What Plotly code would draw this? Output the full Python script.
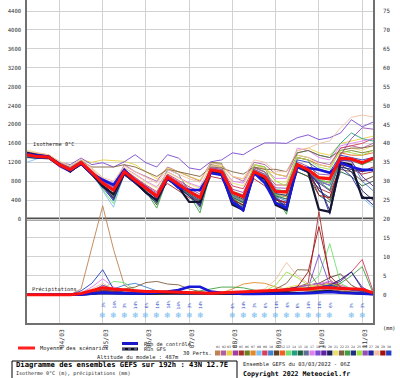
import plotly.graph_objects as go
import pandas as pd

MONO = "DejaVu Sans Mono"

# ---------------- data ----------------
times = pd.date_range("2022-03-03 06:00", periods=33, freq="6h")
day_ticks = pd.date_range("2022-03-04", periods=8, freq="D")
day_labels = ["04/03", "05/03", "06/03", "07/03", "08/03", "09/03", "10/03", "11/03"]

left_ticks = [0, 400, 800, 1200, 1600, 2000, 2400, 2800, 3200, 3600, 4000, 4400]
right_ticks = [0, 5, 10, 15, 20, 25, 30, 35, 40, 45, 50, 55, 60, 65, 70, 75]

# isotherm 0°C (m)
iso_mean = [1360,1320,1310,1150,1040,1190,980,760,610,1000,820,640,480,890,740,580,450,1040,1000,560,470,1000,890,580,570,1150,1040,870,850,1290,1270,1190,1290]
iso_control = [1380,1340,1320,1140,1020,1180,960,830,720,1040,800,660,470,870,660,615,615,975,930,360,190,975,760,340,233,1100,1080,1040,975,1190,1100,1040,1040]
iso_gfs = [1400,1350,1320,1160,1000,1180,960,700,520,980,790,560,400,860,680,360,360,1000,960,300,190,980,850,300,190,1150,1000,200,150,1200,1150,445,445]

iso_p01 = [1330,1300,1290,1130,1010,1150,950,700,520,960,780,560,380,850,700,520,380,980,950,480,380,960,850,500,470,1100,1000,800,760,1250,1230,1150,1250]
iso_p02 = [1380,1350,1330,1180,1080,1230,1020,820,700,1150,1000,900,800,1100,1000,900,800,1200,1150,900,800,1200,1150,950,900,1350,1300,1200,1150,1500,1550,1500,1600]
iso_p03 = [1300,1330,1350,1200,1120,1250,1200,1250,1240,1220,1150,1000,850,1080,1000,900,820,1150,1120,900,850,1100,1050,950,900,1450,1500,1400,1350,1600,1650,1700,1750]
iso_p04 = [1350,1300,1280,1100,990,1160,930,680,470,930,760,580,400,860,690,480,300,1000,960,420,280,980,860,430,350,1120,1010,780,720,1260,1240,1160,1270]
iso_p05 = [1400,1360,1340,1180,1060,1210,1000,780,640,1030,850,680,520,750,600,450,350,900,850,450,350,850,700,400,350,1000,900,650,550,1100,1050,950,1000]
iso_p06 = [1320,1290,1280,1120,1000,1140,920,680,500,960,760,540,360,840,680,500,360,1200,1180,500,400,1150,1100,520,500,1300,1250,820,780,1400,1450,1400,1450]
iso_p07 = [1340,1310,1300,1140,1030,1180,960,740,450,990,800,620,350,880,720,560,440,1030,990,540,460,990,880,560,550,1150,1030,860,830,1280,1260,1180,1280]
iso_p08 = [1200,1280,1300,1160,1060,1200,1000,600,250,980,840,660,300,880,750,560,200,1020,980,420,250,1000,880,520,150,1140,1040,800,600,1200,1100,450,250]
iso_p09 = [1420,1380,1350,1190,1080,1220,1020,800,680,1050,880,720,580,950,820,680,580,1080,1050,700,640,1080,990,720,720,1300,1250,1150,1100,1500,1550,1600,1700]
iso_p10 = [1360,1330,1320,1160,1050,1200,990,720,380,990,800,600,360,870,720,540,380,1010,990,500,360,990,860,480,380,1120,1020,820,700,1260,1240,800,600]
iso_p11 = [1300,1280,1270,1120,1020,1160,950,720,540,970,790,600,300,860,710,540,250,1010,970,350,250,970,860,350,300,1120,1010,600,400,1050,1000,800,900]
iso_p12 = [1370,1340,1330,1170,1060,1210,1000,790,630,1010,840,670,510,910,770,610,490,1060,1030,590,510,1030,920,610,600,1180,1070,900,880,1400,1350,1350,1400]
iso_p13 = [1310,1300,1300,1150,1050,1190,980,620,330,990,800,600,320,870,720,540,300,1020,980,480,300,1010,880,520,420,1160,1050,840,760,1290,1270,1180,1280]
iso_p14 = [1350,1320,1310,1150,1040,1200,990,770,620,1010,830,650,500,900,760,600,480,1050,1020,580,500,1050,940,620,590,1400,1450,1350,1300,1600,1820,1700,1650]
iso_p15 = [1330,1300,1290,1130,1020,1170,960,720,520,970,780,580,380,850,700,520,360,990,960,470,340,960,850,490,420,1000,900,500,350,1000,900,700,800]
iso_p16 = [1380,1340,1320,1160,1050,1200,990,770,610,1000,830,650,490,1050,950,590,470,1150,1100,570,480,1100,1000,590,580,1160,1050,880,860,1300,1280,1200,1300]
iso_p17 = [1400,1370,1350,1200,1100,1250,1050,850,760,1080,950,800,680,1000,880,760,680,1120,1100,800,760,1150,1060,860,860,1500,1450,1300,1250,1550,1600,1650,1700]
iso_p18 = [1380,1350,1330,1200,1150,1290,1150,1190,1100,1210,1360,1190,1100,1360,1290,1080,1040,1210,1250,1400,1360,1500,1610,1610,1600,1720,1780,1680,1720,1820,2100,1950,2050]
iso_p19 = [1340,1310,1300,1140,1030,1170,960,700,450,960,780,580,400,850,700,520,320,980,950,440,280,960,850,460,300,1100,990,760,600,1240,1220,900,700]
iso_p20 = [1320,1300,1290,1130,1010,1150,940,690,430,940,760,560,380,830,680,500,300,970,940,420,220,950,830,420,240,1090,980,720,180,1150,1000,600,400]
iso_p21 = [1460,1400,1360,1220,1120,1260,1050,850,740,1080,930,780,650,990,870,740,650,1130,1110,760,700,1150,1060,800,780,1350,1300,1150,1100,1450,1500,1450,1550]
iso_p22 = [1390,1360,1330,1180,1090,1230,1100,1100,1100,1150,1100,1000,900,1050,1000,950,900,1100,1080,1000,950,1100,1050,1050,1000,1400,1450,1350,1300,1450,1500,1500,1550]
iso_p23 = [1300,1290,1290,1130,1020,1160,950,720,480,970,790,590,230,860,700,510,130,1000,960,460,260,990,870,490,100,1130,1030,790,620,1270,1250,1150,1250]
iso_p24 = [1350,1320,1300,1150,1040,1190,980,750,580,990,810,620,440,870,720,550,400,1020,990,520,420,990,870,540,500,1130,1020,600,450,1100,1050,1000,1050]
iso_p25 = [1330,1310,1300,1140,1030,1180,970,740,590,1000,820,630,460,880,730,560,420,1030,990,530,450,1150,1100,800,700,1300,1250,1100,1050,1450,1400,1350,1450]
iso_p26 = [1370,1350,1330,1170,1070,1220,1020,800,660,1040,870,700,550,930,790,640,530,1080,1050,630,560,1050,950,660,650,1210,1110,950,930,1350,1700,1930,1900]
iso_p27 = [1310,1280,1280,1120,1000,1140,920,660,400,930,750,540,340,830,670,480,280,960,930,430,150,950,830,440,260,1080,980,740,100,1100,900,500,300]
iso_p28 = [1420,1400,1360,1220,1120,1270,1080,880,800,1120,1000,880,760,1050,950,850,780,1180,1150,900,850,1250,1200,1000,1000,1450,1500,1600,1650,1930,2150,2200,2160]
iso_p29 = [1340,1310,1300,1150,1040,1190,980,760,620,1000,820,640,480,890,740,570,440,1040,1000,400,300,1000,880,400,350,1150,1030,500,450,1150,1100,1000,1100]
iso_p30 = [1360,1320,1310,1160,1050,1200,990,770,630,1010,830,650,490,900,750,590,460,1050,1010,570,490,1010,900,590,560,1250,1200,1050,1000,1350,1300,1250,1300]

# precipitation (mm)
pr_mean = [0,0,0,0,0,0.3,1.0,1.8,1.5,1.2,1.0,0.8,0.8,0.7,0.6,0.5,0.5,0.4,0.5,0.6,0.7,0.8,0.9,1.1,1.3,1.4,1.5,1.8,1.8,1.6,1.5,1.4,0.5]
pr_control = [0,0,0,0,0,0,0.3,0.5,0.4,0.3,0.3,0.3,0.5,0.8,1.2,2.1,2.1,0.8,0.5,0.3,0.2,0.2,0.2,0.2,0.3,0.3,0.4,0.5,0.7,0.5,0.3,0.2,0.1]
pr_gfs = [0,0,0,0,0,0,0.2,0.4,0.3,0.2,0.2,0.2,0.2,0.3,0.4,0.5,0.4,0.3,0.2,0.2,0.2,0.3,0.4,0.5,0.6,0.5,0.5,0.8,1.0,0.6,0.4,0.3,0.1]

pr_p01 = [0,0,0,0,0,1.5,12.5,23.5,12,2.5,0.8,0.5,0.3,0.2,0.2,0.3,0.3,0.2,0.2,0.3,0.4,0.5,0.5,0.8,1.0,1.2,1.0,0.8,0.6,0.5,0.4,0.3,0.2]
pr_p02 = [0,0,0,0,0,0.2,0.6,1.0,0.8,0.6,0.5,0.4,0.3,0.3,0.2,0.2,0.2,0.2,0.3,0.4,0.5,0.6,0.5,0.8,1.5,1.2,0.9,1.2,1.5,1.0,0.8,0.6,0.2]
pr_p03 = [0,0,0,0,0,0.1,0.5,0.8,0.6,0.4,0.3,0.3,0.2,0.2,0.1,0.1,0.1,0.1,0.2,0.3,0.4,0.5,0.6,0.8,1.8,2.5,1.5,1.0,0.8,0.6,1.0,0.8,0.2]
pr_p04 = [0,0,0,0,0,0.3,1.0,2.0,1.2,0.8,0.5,0.3,0.3,0.2,0.2,0.2,0.2,0.3,0.3,0.4,0.5,0.6,0.8,1.0,1.5,1.8,1.5,2.5,3.5,2.0,1.0,0.8,0.3]
pr_p05 = [0,0,0,0,0,0.2,0.8,1.5,1.0,0.6,0.5,0.4,0.3,0.3,0.2,0.2,0.2,0.2,0.3,0.4,0.5,0.6,0.8,1.0,1.5,2.0,3.0,22.0,4.0,1.5,1.0,0.8,0.3]
pr_p06 = [0,0,0,0,0,0.2,0.6,1.2,0.8,0.5,0.4,0.3,0.2,0.2,0.2,0.2,0.1,0.2,0.2,0.3,0.4,0.5,0.6,0.8,1.2,1.5,1.2,1.0,0.8,0.6,0.5,0.4,0.2]
pr_p07 = [0,0,0,0,0,0.2,0.8,2.5,1.5,0.8,0.5,0.4,0.3,0.3,0.2,0.2,0.2,0.3,0.5,1.5,2.8,3.2,3.0,2.0,1.5,1.2,1.0,1.5,2.0,1.5,1.0,0.6,0.2]
pr_p08 = [0,0,0,0,0,0.1,0.5,1.0,0.8,0.5,0.4,0.3,0.2,0.2,0.2,0.2,0.2,0.2,0.3,0.4,0.5,0.6,0.8,1.0,1.2,1.5,1.8,2.0,2.5,1.8,1.2,0.8,0.3]
pr_p09 = [0,0,0,0,0,0.2,0.6,1.2,0.8,0.6,0.5,0.4,0.3,0.3,0.2,0.2,0.2,0.2,0.3,0.4,0.5,0.6,0.8,1.0,1.5,1.8,1.5,2.0,2.5,4.0,6.0,9.3,1.0]
pr_p10 = [0,0,0,0,0,0.2,0.8,1.5,1.5,2.5,3.0,2.0,1.0,0.6,0.4,0.3,0.2,0.2,0.3,0.4,0.5,0.5,0.6,0.8,1.0,1.2,1.5,1.8,2.0,1.5,1.0,0.8,0.3]
pr_p11 = [0,0,0,0,0,0.2,0.5,1.0,0.8,0.6,0.5,0.4,0.3,0.3,0.2,0.2,0.2,0.2,0.3,0.4,0.5,0.6,0.8,1.0,1.5,2.0,2.5,3.0,4.5,5.5,2.5,1.0,0.3]
pr_p12 = [0,0,0,0,0,0.3,0.8,1.5,1.0,0.8,0.6,0.5,0.4,0.3,0.3,0.3,0.2,0.2,0.3,0.4,0.6,0.8,1.0,1.2,1.5,1.8,2.0,2.5,3.0,2.5,1.5,1.0,0.3]
pr_p13 = [0,0,0,0,0,0.2,0.8,1.5,3.5,3.2,1.2,0.6,0.4,0.3,0.3,0.2,0.2,0.2,0.3,0.4,0.6,0.8,1.0,1.2,1.5,2.0,2.5,5.0,13.5,3.0,1.5,1.0,0.3]
pr_p14 = [0,0,0,0,0,0.1,0.4,0.8,0.6,0.4,0.3,0.3,0.2,0.2,0.2,0.2,0.1,0.2,0.2,0.3,0.4,0.5,0.6,0.8,1.0,1.2,1.5,2.0,2.5,2.0,1.5,1.0,0.3]
pr_p15 = [0,0,0,0,0,0.2,0.6,1.0,0.8,0.6,0.4,0.3,0.3,0.2,0.2,0.2,0.2,0.2,0.3,0.4,0.5,0.6,0.8,1.0,1.2,1.5,1.8,2.2,2.8,2.0,1.2,0.8,0.3]
pr_p16 = [0,0,0,0,0,0.2,0.5,1.0,0.8,0.5,0.4,0.3,0.2,0.2,0.2,0.2,0.2,0.2,0.2,0.3,0.4,0.5,0.6,0.8,1.0,1.3,1.5,1.8,2.0,1.5,1.0,0.6,0.2]
pr_p17 = [0,0,0,0,0,0.5,2.0,4.2,2.0,1.0,0.6,0.5,0.4,0.3,0.3,0.2,0.2,0.2,0.3,0.4,0.5,0.6,0.8,1.0,1.5,2.0,2.5,3.0,3.5,2.5,1.5,1.0,0.3]
pr_p18 = [0,0,0,0,0,0.3,1.0,2.5,1.5,0.8,0.6,0.5,0.4,0.3,0.3,0.3,0.2,0.2,0.3,0.4,0.5,0.6,0.8,1.0,1.5,1.5,1.8,10.6,2.5,1.5,1.0,0.8,0.3]
pr_p19 = [0,0,0,0,0,0.2,0.6,1.2,0.8,0.6,0.4,0.3,0.3,0.2,0.2,0.2,0.2,0.2,0.3,0.3,0.4,0.5,0.6,0.8,1.0,1.2,1.5,1.8,2.5,3.5,6.0,2.0,0.3]
pr_p20 = [0,0,0,0,0,0.1,0.4,0.8,0.6,0.4,0.3,0.2,0.2,0.2,0.2,0.1,0.1,0.1,0.2,0.3,0.4,0.5,0.6,0.8,1.0,1.2,1.4,1.6,2.0,1.5,1.0,0.6,0.2]
pr_p21 = [0,0,0,0,0,0.2,0.5,1.0,0.8,0.6,0.4,0.3,0.2,0.2,0.2,0.2,0.2,0.2,0.2,0.3,0.4,0.5,0.6,0.8,1.2,1.6,2.0,2.4,2.8,2.0,1.2,0.8,0.3]
pr_p22 = [0,0,0,0,0,0.2,0.5,1.0,1.0,1.5,2.0,3.2,3.5,2.8,2.6,1.5,0.8,0.5,0.4,0.5,0.6,0.8,1.0,1.5,3.0,6.6,6.5,2.0,1.5,1.0,0.8,0.6,0.2]
pr_p23 = [0,0,0,0,0,0.1,0.5,1.0,0.8,0.6,0.5,0.4,0.3,0.3,0.3,0.5,1.0,1.5,2.0,2.0,1.8,1.2,0.8,0.8,1.0,1.2,1.5,1.8,2.0,3.0,5.0,7.4,0.4]
pr_p24 = [0,0,0,0,0,0.2,0.5,1.0,0.8,0.5,0.4,0.3,0.3,0.2,0.2,0.2,0.2,0.2,0.3,0.4,0.5,0.6,0.8,1.0,1.2,1.5,1.8,2.0,2.5,4.0,6.0,1.5,0.3]
pr_p25 = [0,0,0,0,0,0.2,0.6,1.2,0.8,0.6,0.4,0.3,0.3,0.2,0.2,0.2,0.2,0.2,0.3,0.4,0.6,0.8,1.0,2.5,6.0,4.5,2.5,2.0,1.8,1.5,1.0,0.8,0.3]
pr_p26 = [0,0,0,0,0,0.2,0.6,1.0,0.8,0.6,0.5,0.4,0.3,0.3,0.2,0.2,0.2,0.2,0.3,0.4,0.5,0.6,0.8,1.0,1.5,2.0,2.5,3.0,2.0,1.5,1.0,0.6,0.2]
pr_p27 = [0,0,0,0,0,0.1,0.4,0.8,0.6,0.4,0.3,0.3,0.2,0.2,0.2,0.2,0.2,0.2,0.2,0.3,0.4,0.5,0.6,0.8,1.0,1.2,1.5,1.8,2.0,1.5,1.0,0.8,0.3]
pr_p28 = [0,0,0,0,0,0.5,1.5,3.0,1.5,0.8,0.6,0.5,0.4,0.3,0.3,0.3,0.3,0.3,0.4,0.6,0.8,1.0,1.5,4.0,8.5,5.0,3.0,2.0,1.5,1.2,1.0,0.8,0.3]
pr_p29 = [0,0,0,0,0,0.2,0.6,1.2,0.8,0.6,0.5,0.4,0.3,0.3,0.2,0.2,0.2,0.2,0.3,0.4,0.5,0.6,0.8,1.0,1.5,2.0,6.0,18.0,5.0,2.0,1.5,1.0,0.3]
pr_p30 = [0,0,0,0,0,1.0,3.0,6.6,1.5,0.6,0.5,0.4,0.3,0.3,0.2,0.2,0.2,0.2,0.3,0.4,0.5,0.6,0.8,1.0,1.2,1.5,1.8,2.0,2.5,1.8,1.2,0.8,0.3]

member_colors = ["#c08050", "#b060a0", "#e8d040", "#a040a0", "#a83030", "#708020",
                 "#e08a30", "#80c0f0", "#d04060", "#4080d0", "#604020", "#f06020",
                 "#70e070", "#20a080", "#206040", "#607090", "#e080f0", "#7a4ad0",
                 "#6020a0", "#202060", "#e8e070", "#806040", "#40a040", "#203080",
                 "#a0e040", "#9050b0", "#2020a0", "#f0c0a0", "#a01010", "#2040c0"]
member_names = ["%02d" % (k + 1) for k in range(30)]

# snow probability markers
snow_idx = [7, 8, 9, 10, 11, 12, 13, 14, 15, 16, 19, 20, 21, 22, 23, 24, 25, 26, 27, 28, 30, 31]
snow_pct = ["3%", "14%", "3%", "14%", "6%", "14%", "14%", "14%", "3%", "14%",
            "6%", "14%", "3%", "6%", "14%", "6%", "6%", "14%", "14%", "6%", "3%", "3%"]

iso_members = [iso_p01, iso_p02, iso_p03, iso_p04, iso_p05, iso_p06, iso_p07, iso_p08, iso_p09, iso_p10,
               iso_p11, iso_p12, iso_p13, iso_p14, iso_p15, iso_p16, iso_p17, iso_p18, iso_p19, iso_p20,
               iso_p21, iso_p22, iso_p23, iso_p24, iso_p25, iso_p26, iso_p27, iso_p28, iso_p29, iso_p30]
pr_members = [pr_p01, pr_p02, pr_p03, pr_p04, pr_p05, pr_p06, pr_p07, pr_p08, pr_p09, pr_p10,
              pr_p11, pr_p12, pr_p13, pr_p14, pr_p15, pr_p16, pr_p17, pr_p18, pr_p19, pr_p20,
              pr_p21, pr_p22, pr_p23, pr_p24, pr_p25, pr_p26, pr_p27, pr_p28, pr_p29, pr_p30]

# ---------------- layout geometry ----------------
W, H = 400, 378
ML, MR, MT, MB = 27, 27, 0, 55
PW, PH = W - ML - MR, H - MT - MB


def px(x):
    return (x - ML) / PW


def py(y):
    return (H - MB - y) / PH


fig = go.Figure()

for k in range(30):
    fig.add_trace(go.Scatter(x=times, y=iso_members[k], mode="lines", yaxis="y",
                             line=dict(color=member_colors[k], width=0.9),
                             hoverinfo="skip", showlegend=False))
fig.add_trace(go.Scatter(x=times, y=iso_gfs, mode="lines", yaxis="y",
                         line=dict(color="#141430", width=2.2), showlegend=False))
fig.add_trace(go.Scatter(x=times, y=iso_control, mode="lines", yaxis="y",
                         line=dict(color="#1818d8", width=2.6), showlegend=False))
fig.add_trace(go.Scatter(x=times, y=iso_mean, mode="lines", yaxis="y",
                         line=dict(color="#ff1010", width=3), showlegend=False))

for k in range(30):
    fig.add_trace(go.Scatter(x=times, y=pr_members[k], mode="lines", yaxis="y2",
                             line=dict(color=member_colors[k], width=0.9),
                             hoverinfo="skip", showlegend=False))
fig.add_trace(go.Scatter(x=times, y=pr_gfs, mode="lines", yaxis="y2",
                         line=dict(color="#141430", width=2.2), showlegend=False))
fig.add_trace(go.Scatter(x=times, y=pr_control, mode="lines", yaxis="y2",
                         line=dict(color="#1818d8", width=2.6), showlegend=False))
fig.add_trace(go.Scatter(x=times, y=pr_mean, mode="lines", yaxis="y2",
                         line=dict(color="#ff1010", width=3), showlegend=False))

# left grid also covers the precipitation part (right 0..15 <-> left -1600..-400)
grid_vals = list(range(-1600, 4401, 400))
grid_text = [str(v) if v in left_ticks else "" for v in grid_vals]

fig.update_layout(
    width=W, height=H,
    margin=dict(l=ML, r=MR, t=MT, b=MB),
    paper_bgcolor="white", plot_bgcolor="white",
    showlegend=False,
    xaxis=dict(type="date", range=[times[0], times[-1]],
               tickvals=list(day_ticks), ticktext=day_labels, tickangle=-90,
               tickfont=dict(family=MONO, size=6.3, color="#333333"),
               showgrid=True, gridcolor="#d2d2d2", gridwidth=1,
               showline=True, linecolor="#707070", linewidth=1.5,
               ticks="", zeroline=False, ticklabelstandoff=2, ticklabelshift=3),
    yaxis=dict(range=[-2200, 4633], tickvals=grid_vals, ticktext=grid_text,
               showgrid=True, gridcolor="#d2d2d2", gridwidth=1, zeroline=False,
               showline=True, linecolor="#707070", linewidth=1.5, ticks="",
               tickfont=dict(family=MONO, size=5.6, color="#333333"),
               ticklabelstandoff=3),
    yaxis2=dict(range=[-7.5, 77.94], overlaying="y", side="right",
                tickvals=right_ticks, ticktext=[str(v) for v in right_ticks],
                showgrid=False, zeroline=False, showline=True,
                linecolor="#707070", linewidth=1.5, ticks="",
                tickfont=dict(family=MONO, size=5.8, color="#333333"),
                ticklabelstandoff=7),
)

shapes = []
# thick separator at isotherm 0 m
shapes.append(dict(type="line", xref="paper", yref="y", x0=0, x1=1, y0=0, y1=0,
                   line=dict(color="#505050", width=3), layer="between"))

# legend line swatches
shapes.append(dict(type="line", xref="paper", yref="paper", x0=px(18), x1=px(35),
                   y0=py(348), y1=py(348), line=dict(color="#ff2020", width=3)))
shapes.append(dict(type="line", xref="paper", yref="paper", x0=px(122), x1=px(138),
                   y0=py(343.5), y1=py(343.5), line=dict(color="#1818c8", width=3)))
shapes.append(dict(type="line", xref="paper", yref="paper", x0=px(122), x1=px(138),
                   y0=py(349), y1=py(349), line=dict(color="#101020", width=3)))
shapes.append(dict(type="line", xref="paper", yref="paper", x0=px(122), x1=px(138),
                   y0=py(349), y1=py(349), line=dict(color="#9090c0", width=1, dash="dot")))

# member colour squares
for k in range(30):
    x0 = 215 + k * 5.9
    shapes.append(dict(type="rect", xref="paper", yref="paper",
                       x0=px(x0), x1=px(x0 + 5.3), y0=py(355.5), y1=py(350.5),
                       line=dict(width=0), fillcolor=member_colors[k]))

# title box
shapes.append(dict(type="rect", xref="paper", yref="paper",
                   x0=px(12), x1=px(237), y0=py(381), y1=py(361),
                   line=dict(color="#000000", width=1), fillcolor="rgba(0,0,0,0)"))

fig.update_layout(shapes=shapes)

ann = []


def txt(x, y, s, size, color="#222222", bold=False, anchor="left"):
    ann.append(dict(xref="paper", yref="paper", x=px(x), y=py(y),
                    text=("<b>%s</b>" % s) if bold else s, showarrow=False,
                    xanchor=anchor, yanchor="middle", borderpad=0,
                    font=dict(family=MONO, size=size, color=color)))


txt(32, 144.5, "Isotherme 0°C", 5.3)
txt(31, 289, "Précipitations", 5.3)
txt(382, 328, "(mm)", 5.2)
txt(39, 348, "Moyenne des scénarios", 5.4)
txt(143, 343.5, "Run de contrôle", 5.2)
txt(143, 349, "Run GFS", 5.2)
txt(182, 352.5, "30 Perts.", 5.3)
txt(96, 357.5, "Altitude du modele : 487m", 5.4)
for k in range(30):
    txt(215 + k * 5.9 + 2.65, 346.8, member_names[k], 3.2, color="#333333", anchor="center")
txt(15, 364.5, "Diagramme des ensembles GEFS sur 192h : 43N 12.7E", 7.2, color="#000000", bold=True)
txt(15, 373.5, "Isotherme 0°C (m), précipitations (mm)", 5.0)
txt(242, 364, "Ensemble GEFS du 03/03/2022 - 06Z", 5.4)
txt(242, 373.5, "Copyright 2022 Meteociel.fr", 6.6, color="#000000", bold=True)

for i, p in zip(snow_idx, snow_pct):
    ann.append(dict(xref="x", yref="paper", x=times[i], y=py(315.5), text="❄",
                    showarrow=False, xanchor="center", yanchor="middle", borderpad=0,
                    font=dict(family="DejaVu Sans", size=8, color="#70b8f0")))
    ann.append(dict(xref="x", yref="paper", x=times[i], y=py(305), text=p,
                    showarrow=False, xanchor="center", yanchor="middle", borderpad=0,
                    textangle=-90,
                    font=dict(family=MONO, size=4.4, color="#2848c8")))

fig.update_layout(annotations=ann)

fig.write_html("out.html")
